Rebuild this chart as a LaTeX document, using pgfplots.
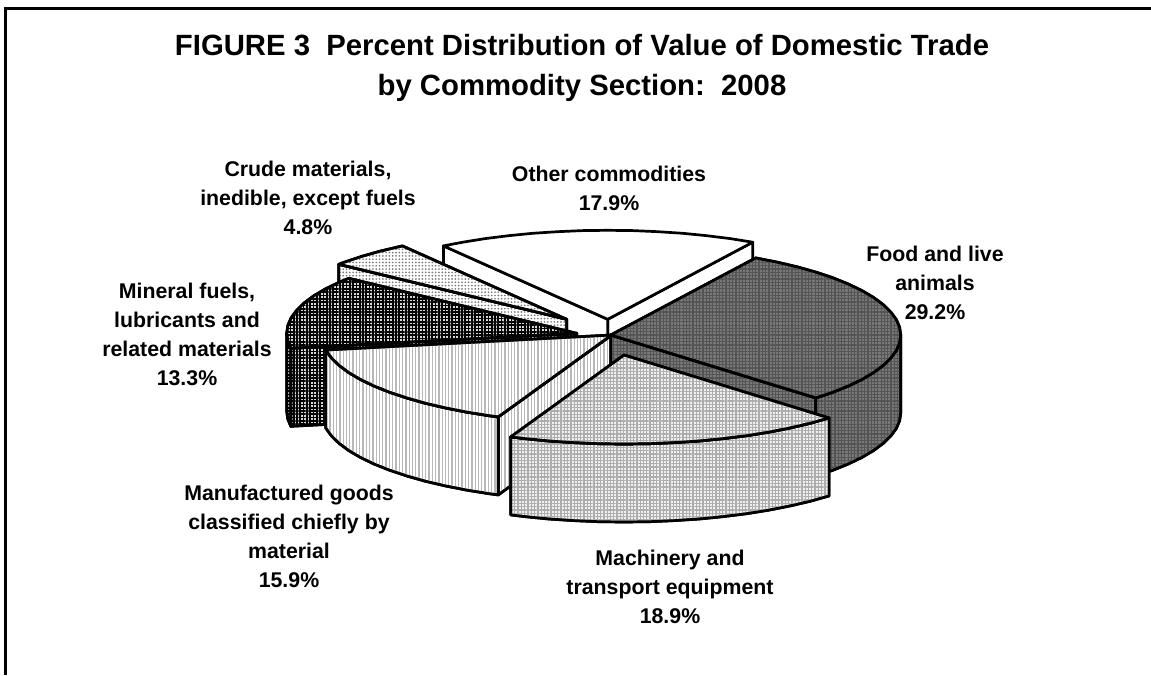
\documentclass[border=0pt]{standalone}
\usepackage{pgfplots}
\pgfplotsset{compat=1.18}
\usepackage{fontspec}
\setmainfont{Liberation Sans}
\usetikzlibrary{patterns.meta}
\definecolor{foodbg}{gray}{0.47}
\definecolor{foodln}{gray}{0.33}
\definecolor{machln}{gray}{0.68}
\definecolor{manuln}{gray}{0.72}
\definecolor{crudln}{gray}{0.48}
\tikzset{
 edge/.style={draw=black,line width=2.7pt,line join=round,mark=none},
 other/.style={edge,fill=white},
 food/.style={edge,preaction={fill=foodbg},pattern={Hatch[angle=0,distance=3.3pt,line width=1.2pt]},pattern color=foodln},
 mach/.style={edge,preaction={fill=gray!12},pattern={Hatch[angle=0,distance=3.3pt,line width=1.25pt]},pattern color=machln},
 manu/.style={edge,preaction={fill=white},pattern={Lines[angle=90,distance=3.3pt,line width=1.3pt]},pattern color=manuln},
 mine/.style={edge,preaction={fill=gray!30},pattern={Hatch[angle=0,distance=3.3pt,line width=1.7pt]},pattern color=black},
 crud/.style={edge,preaction={fill=white},pattern={Dots[angle=0,distance=3.3pt,radius=0.95pt]},pattern color=crudln},
 lab/.style={font=\fontsize{21.3}{29}\selectfont\bfseries,align=center,anchor=center,inner sep=0pt},
}
\begin{document}
\begin{tikzpicture}
\useasboundingbox (0,0) rectangle (1151pt,675pt);
\begin{axis}[scale only axis,width=1151pt,height=675pt,xmin=0,xmax=1151,ymin=0,ymax=675,y dir=reverse,axis lines=none,clip=false]
% frame
\addplot[draw=black,line width=2.2pt,mark=none] coordinates {(5.5,675)(5.5,8.5)(1151,8.5)};
% Other commodities: faces then top
\addplot[other] coordinates {(607.7,319.3)(752.7,242.2)(752.7,320.2)(607.7,397.3)} -- cycle;
\addplot[other] coordinates {(607.7,319.3)(443.4,245.9)(443.4,323.9)(607.7,397.3)} -- cycle;
\addplot[other] coordinates {(607.7,319.3)(752.7,242.2)(730.3,238.6)(706.9,235.7)(682.8,233.3)(658.1,231.7)(633.0,230.6)(607.7,230.3)(582.4,230.6)(557.3,231.7)(532.6,233.3)(508.5,235.7)(485.1,238.6)(462.7,242.2)(443.4,245.9)} -- cycle;
% Crude materials
\addplot[crud] coordinates {(338.8,264.3)(566.7,319.3)(566.7,397.3)(338.8,342.3)} -- cycle;
\addplot[crud] coordinates {(566.7,319.3)(402.4,245.9)(380.3,251.1)(361.6,256.4)(344.5,262.1)(338.8,264.3)} -- cycle;
% Mineral fuels
\addplot[mine] coordinates {(290.8,348.3)(576.7,333.3)(576.7,411.3)(290.8,426.3)} -- cycle;
\addplot[mine] coordinates {(286.7,333.3)(287.8,341.1)(290.8,348.3)(290.8,426.3)(287.8,419.1)(286.7,411.3)} -- cycle;
\addplot[mine] coordinates {(576.7,333.3)(348.8,278.3)(339.1,282.3)(325.6,288.8)(313.9,295.7)(304.2,302.9)(296.6,310.3)(291.1,317.8)(287.8,325.5)(286.7,333.3)(287.8,341.1)(290.8,348.3)} -- cycle;
% Manufactured goods
\addplot[manu] coordinates {(498.3,416.9)(611.6,335)(611.6,413)(498.3,494.9)} -- cycle;
\addplot[manu] coordinates {(325.7,350)(331.5,358)(339.1,365.4)(348.8,372.6)(360.5,379.5)(374.0,386)(389.4,392.2)(406.5,397.9)(425.2,403.2)(445.3,407.9)(466.6,412.1)(489.0,415.7)(498.3,416.9)(498.3,494.9)(489.0,493.7)(466.6,490.1)(445.3,485.9)(425.2,481.2)(406.5,475.9)(389.4,470.2)(374.0,464)(360.5,457.5)(348.8,450.6)(339.1,443.4)(331.5,436)(325.7,428)} -- cycle;
\addplot[manu] coordinates {(611.6,335)(325.7,350)(331.5,358)(339.1,365.4)(348.8,372.6)(360.5,379.5)(374.0,386)(389.4,392.2)(406.5,397.9)(425.2,403.2)(445.3,407.9)(466.6,412.1)(489.0,415.7)(498.3,416.9)} -- cycle;
% Food and live animals
\addplot[food] coordinates {(610.7,335)(815.8,397.9)(815.8,475.9)(610.7,413)} -- cycle;
\addplot[food] coordinates {(900.7,335)(899.6,342.8)(896.3,350.5)(890.8,358)(883.2,365.4)(873.5,372.6)(861.8,379.5)(848.3,386)(832.9,392.2)(815.8,397.9)(815.8,475.9)(832.9,470.2)(848.3,464)(861.8,457.5)(873.5,450.6)(883.2,443.4)(890.8,436)(896.3,428.5)(899.6,420.8)(900.7,413)} -- cycle;
\addplot[food] coordinates {(610.7,335)(755.7,257.9)(777,262.1)(797.1,266.8)(815.8,272.1)(832.9,277.8)(848.3,284)(861.8,290.5)(873.5,297.4)(883.2,304.6)(890.8,312)(896.3,319.5)(899.6,327.2)(900.7,335)(899.6,342.8)(896.3,350.5)(890.8,358)(883.2,365.4)(873.5,372.6)(861.8,379.5)(848.3,386)(832.9,392.2)(815.8,397.9)} -- cycle;
% Machinery
\addplot[mach] coordinates {(510.7,436.9)(524.8,438.6)(548.9,441)(573.6,442.6)(598.7,443.7)(624,444)(649.3,443.7)(674.4,442.6)(699.1,441)(723.2,438.6)(746.6,435.7)(769,432.1)(790.3,427.9)(810.4,423.2)(829.1,417.9)(829.1,495.9)(810.4,501.2)(790.3,505.9)(769,510.1)(746.6,513.7)(723.2,516.6)(699.1,519)(674.4,520.6)(649.3,521.7)(624,522)(598.7,521.7)(573.6,520.6)(548.9,519)(524.8,516.6)(510.7,514.9)} -- cycle;
\addplot[mach] coordinates {(624,355)(510.7,436.9)(524.8,438.6)(548.9,441)(573.6,442.6)(598.7,443.7)(624,444)(649.3,443.7)(674.4,442.6)(699.1,441)(723.2,438.6)(746.6,435.7)(769,432.1)(790.3,427.9)(810.4,423.2)(829.1,417.9)} -- cycle;
% Texts
\node[font=\fontsize{29.3}{40}\selectfont\bfseries,align=center,anchor=center,inner sep=0pt] at (axis cs:582,68) {FIGURE 3\ \ Percent Distribution of Value of Domestic Trade\\by Commodity Section:\ \ 2008};
\node[lab] at (axis cs:609,188) {Other commodities\\17.9\%};
\node[lab] at (axis cs:308,198) {Crude materials,\\inedible, except fuels\\4.8\%};
\node[lab] at (axis cs:187,334) {Mineral fuels,\\lubricants and\\related materials\\13.3\%};
\node[lab] at (axis cs:935,283) {Food and live\\animals\\29.2\%};
\node[lab] at (axis cs:670,587) {Machinery and\\transport equipment\\18.9\%};
\node[lab] at (axis cs:289,536) {Manufactured goods\\classified chiefly by\\material\\15.9\%};
\end{axis}
\end{tikzpicture}
\end{document}
